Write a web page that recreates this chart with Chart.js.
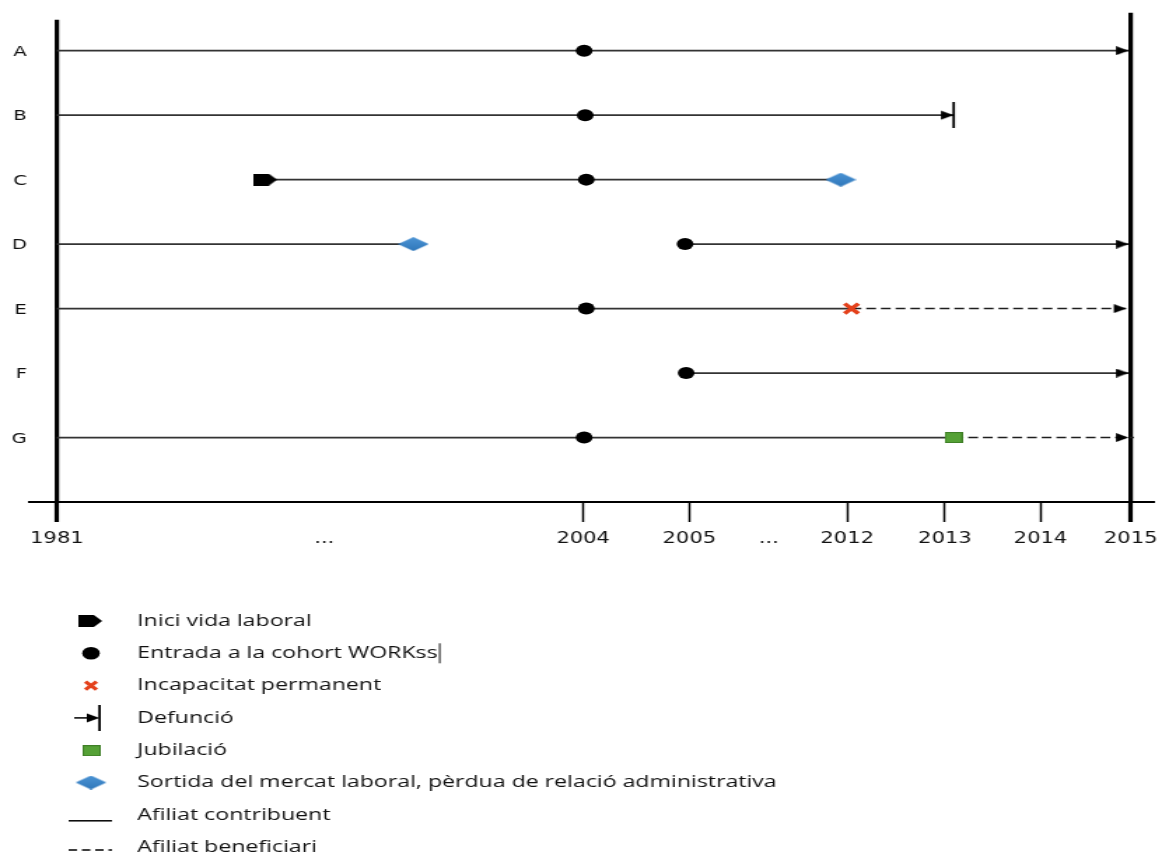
<!DOCTYPE html>
<html>
<head>
<meta charset="utf-8">
<script src="https://cdn.jsdelivr.net/npm/chart.js@4.4.1/dist/chart.umd.min.js"></script>
<style>
  html, body { margin: 0; padding: 0; background: #fff; overflow: hidden; }
  /* le schéma d'origine est étiré horizontalement */
  #wrap { width: 835px; height: 852px; transform: scaleX(1.4); transform-origin: 0 0; }
</style>
</head>
<body>
<div id="wrap"><canvas id="timeline" width="835" height="852"></canvas></div>
<script>
// === 1. Données (axe temporel schématique : 0 = 1981, 100 = 2015) ===
const rowLabels = ['A', 'B', 'C', 'D', 'E', 'F', 'G'];
const tickPos = [0, 24.9, 49.0, 58.9, 66.3, 73.6, 82.7, 91.6, 100];
const tickLabels = ['1981', '...', '2004', '2005', '...', '2012', '2013', '2014', '2015'];

// Afiliat contribuent (trait plein)
const contribRow = ['A', 'B', 'C', 'D', 'D', 'E', 'F', 'G'];
const contribFrom = [0, 0, 19.4, 0, 58.5, 0, 58.6, 0];
const contribTo = [99.8, 83.5, 73.0, 33.2, 99.8, 74.0, 99.8, 83.5];

// Afiliat beneficiari (pointillé)
const benefRow = ['E', 'G'];
const benefFrom = [74.0, 83.5];
const benefTo = [99.6, 100.3];

// Événements
const startRow = ['C'];
const startPos = [19.4];
const cohortRow = ['A', 'B', 'C', 'D', 'E', 'F', 'G'];
const cohortPos = [49.1, 49.2, 49.3, 58.5, 49.3, 58.6, 49.1];
const exitRow = ['C', 'D'];
const exitPos = [73.0, 33.2];
const disabilityRow = ['E'];
const disabilityPos = [74.0];
const retireRow = ['G'];
const retirePos = [83.5];
const deathRow = ['B'];
const deathPos = [83.5];
const followRow = ['A', 'D', 'E', 'F', 'G'];
const followPos = [99.8, 99.8, 99.6, 99.8, 99.8];

const legendLabels = [
  'Inici vida laboral',
  'Entrada a la cohort WORKss',
  'Incapacitat permanent',
  'Defunció',
  'Jubilació',
  'Sortida del mercat laboral, pèrdua de relació administrativa',
  'Afiliat contribuent',
  'Afiliat beneficiari'
];

// === 2. Symboles dessinés dans de petits canvas ===
function makeIcon(w, h, draw) {
  const c = document.createElement('canvas');
  c.width = w; c.height = h;
  draw(c.getContext('2d'), w, h);
  return c;
}

const arrowIcon = makeIcon(20, 9, (g, w, h) => {
  g.fillStyle = '#000';
  g.beginPath(); g.moveTo(1, 0); g.lineTo(w / 2, h / 2); g.lineTo(1, h); g.closePath(); g.fill();
});
const deathIcon = makeIcon(22, 26, (g, w, h) => {
  g.fillStyle = '#000';
  g.beginPath(); g.moveTo(2, h / 2 - 4.5); g.lineTo(w / 2, h / 2); g.lineTo(2, h / 2 + 4.5); g.closePath(); g.fill();
  g.fillRect(w / 2 - 0.8, 0, 1.8, h);
});
const flagIcon = makeIcon(17, 12, (g, w, h) => {
  g.fillStyle = '#000';
  g.beginPath(); g.moveTo(0, 0); g.lineTo(11, 0); g.lineTo(w, h / 2); g.lineTo(11, h); g.lineTo(0, h); g.closePath(); g.fill();
});
const diamondIcon = makeIcon(22, 14, (g, w, h) => {
  const grad = g.createLinearGradient(0, 0, 0, h);
  grad.addColorStop(0, '#4b93d4');
  grad.addColorStop(1, '#2f77ba');
  g.fillStyle = grad;
  g.beginPath(); g.moveTo(0, h / 2); g.lineTo(w / 2, 0); g.lineTo(w, h / 2); g.lineTo(w / 2, h); g.closePath(); g.fill();
});
const squareIcon = makeIcon(13, 11, (g, w, h) => {
  g.fillStyle = '#55a136';
  g.fillRect(0, 0, w, h);
  g.strokeStyle = '#3f7f27';
  g.lineWidth = 1;
  g.strokeRect(0.5, 0.5, w - 1, h - 1);
});

// === 3. Construction des datasets ===
const pts = (rows, pos) => rows.map((r, i) => ({ x: pos[i], y: rowLabels.indexOf(r) }));

function segments(rows, from, to, style) {
  return rows.map((r, i) => Object.assign({
    type: 'line',
    data: [{ x: from[i], y: rowLabels.indexOf(r) }, { x: to[i], y: rowLabels.indexOf(r) }],
    pointRadius: 0,
    fill: false,
    order: 3
  }, style));
}

function marks(rows, pos, style) {
  return Object.assign({ type: 'scatter', data: pts(rows, pos), order: 0 }, style);
}

const datasets = [
  // bords verticaux 1981 et 2015
  { type: 'line', data: [{ x: 0, y: -0.48 }, { x: 0, y: 7 }], borderColor: '#000', borderWidth: 3.2, pointRadius: 0, order: 4 },
  { type: 'line', data: [{ x: 100, y: -0.59 }, { x: 100, y: 7 }], borderColor: '#000', borderWidth: 3.2, pointRadius: 0, order: 4 },
  ...segments(contribRow, contribFrom, contribTo, { borderColor: '#333', borderWidth: 1.8 }),
  ...segments(benefRow, benefFrom, benefTo, { borderColor: '#1e1e1e', borderWidth: 1.5, borderDash: [7, 3.5] }),
  marks(followRow, followPos, { pointStyle: arrowIcon, order: 1 }),
  marks(deathRow, deathPos, { pointStyle: deathIcon }),
  marks(startRow, startPos, { pointStyle: flagIcon }),
  marks(cohortRow, cohortPos, { pointStyle: 'circle', pointRadius: 6, backgroundColor: '#000', borderColor: '#000', borderWidth: 0 }),
  marks(exitRow, exitPos, { pointStyle: diamondIcon }),
  marks(disabilityRow, disabilityPos, { pointStyle: 'crossRot', pointRadius: 7, borderColor: '#e4411b', borderWidth: 3.5 }),
  marks(retireRow, retirePos, { pointStyle: squareIcon })
];

// === 4. Légende verticale sous le graphique ===
const legendPlugin = {
  id: 'verticalLegend',
  afterDraw(chart) {
    const g = chart.ctx;
    const sx = 65, tx = 98, y0 = 621, step = 32.3;
    g.save();
    legendLabels.forEach((label, i) => {
      const y = y0 + i * step;
      g.fillStyle = '#000';
      g.strokeStyle = '#000';
      if (i === 0) g.drawImage(flagIcon, sx - 9, y - 6);
      if (i === 1) { g.beginPath(); g.arc(sx, y, 6.3, 0, Math.PI * 2); g.fill(); }
      if (i === 2) {
        g.strokeStyle = '#e4411b'; g.lineWidth = 3;
        g.beginPath(); g.moveTo(sx - 4, y - 4); g.lineTo(sx + 4, y + 4); g.moveTo(sx + 4, y - 4); g.lineTo(sx - 4, y + 4); g.stroke();
      }
      if (i === 3) {
        g.lineWidth = 1.5;
        g.beginPath(); g.moveTo(sx - 12, y); g.lineTo(sx, y); g.stroke();
        g.drawImage(deathIcon, sx + 6 - 11, y - 13);
      }
      if (i === 4) g.drawImage(squareIcon, sx - 6, y - 5);
      if (i === 5) g.drawImage(diamondIcon, sx - 11, y - 7);
      if (i >= 6) {
        g.lineWidth = 1.5;
        g.setLineDash(i === 7 ? [6, 3.5] : []);
        const ly = i === 7 ? y + 3 : y + 6;
        g.beginPath(); g.moveTo(sx - 16, ly); g.lineTo(sx + 15, ly); g.stroke();
        g.setLineDash([]);
      }
      g.fillStyle = '#111';
      g.font = '16.5px "Open Sans"';
      g.textBaseline = 'middle';
      g.fillText(label, tx, y);
      // curseur de saisie resté dans l'original
      if (i === 1) {
        const w = g.measureText(label).width;
        g.fillRect(tx + w + 1, y - 10, 1, 20);
      }
    });
    g.restore();
  }
};

// === 5. Graphique ===
new Chart(document.getElementById('timeline'), {
  type: 'scatter',
  data: { datasets },
  plugins: [legendPlugin],
  options: {
    responsive: false,
    animation: false,
    layout: { padding: { top: 12, bottom: 290, left: 0, right: 8.6 } },
    plugins: { legend: { display: false }, tooltip: { enabled: false } },
    scales: {
      x: {
        type: 'linear',
        min: -2.6,
        max: 102.2,
        afterBuildTicks: scale => { scale.ticks = tickPos.map(v => ({ value: v })); },
        afterFit: scale => { scale.height = 60; },
        border: { display: true, color: '#000', width: 2 },
        grid: {
          display: true,
          drawOnChartArea: false,
          drawTicks: true,
          tickLength: 20,
          tickColor: ctx => tickLabels[ctx.index] === '...' ? 'rgba(0,0,0,0)' : '#000',
          tickWidth: ctx => (ctx.index === 0 || ctx.index === tickLabels.length - 1) ? 3.2 : 1.5
        },
        ticks: {
          autoSkip: false,
          maxRotation: 0,
          padding: 8,
          color: '#111',
          font: { family: '"DejaVu Sans"', size: 15 },
          callback: (value, index) => tickLabels[index]
        }
      },
      y: {
        type: 'linear',
        reverse: true,
        min: -0.6,
        max: 7,
        afterBuildTicks: scale => { scale.ticks = rowLabels.map((r, i) => ({ value: i })); },
        afterFit: scale => { scale.width = 20.7; },
        border: { display: false },
        grid: { display: false, drawTicks: false, tickLength: 0 },
        ticks: {
          padding: 1.5,
          labelOffset: 1.5,
          color: '#111',
          font: { family: '"DejaVu Sans"', size: 14 },
          callback: value => rowLabels[value]
        }
      }
    }
  }
});
</script>
</body>
</html>
